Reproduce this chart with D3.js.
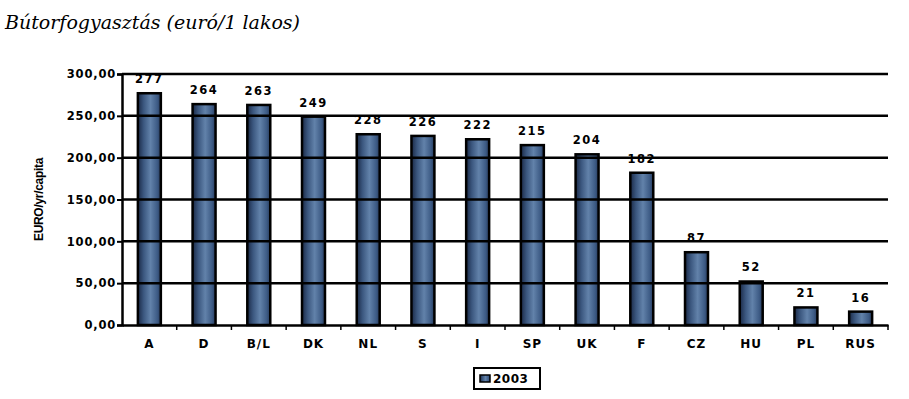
<html>
<script src="https://cdnjs.cloudflare.com/ajax/libs/d3/7.8.5/d3.min.js"></script>
<body style="margin:0;background:#fff">
<svg width="909" height="399"></svg>
<script>
// data
const countries = ["A", "D", "B/L", "DK", "NL", "S", "I", "SP", "UK", "F", "CZ", "HU", "PL", "RUS"];
const values2003 = [277, 264, 263, 249, 228, 226, 222, 215, 204, 182, 87, 52, 21, 16];
const yTicks = [0, 50, 100, 150, 200, 250, 300];
const seriesName = "2003";

var svg = d3.select("svg");
var plotLeft = 122, plotRight = 888, plotTop = 74, plotBottom = 325;
var boldFont = "DejaVu Sans, Liberation Sans, Arial, sans-serif";

var x = d3.scaleBand().domain(countries).range([plotLeft, plotRight]).paddingInner(0.58).paddingOuter(0.29);
var xb = d3.scaleBand().domain(countries).range([plotLeft, plotRight]);
var y = d3.scaleLinear().domain([0, 300]).range([plotBottom, plotTop]);

// gradient for the bars
var grad = svg.append("defs").append("linearGradient").attr("id", "bar").attr("x1", 0).attr("x2", 1);
grad.append("stop").attr("offset", "0%").attr("stop-color", "#1a2946");
grad.append("stop").attr("offset", "25%").attr("stop-color", "#3b577f");
grad.append("stop").attr("offset", "55%").attr("stop-color", "#6282aa");
grad.append("stop").attr("offset", "85%").attr("stop-color", "#3d5b85");
grad.append("stop").attr("offset", "100%").attr("stop-color", "#26395a");

// title
svg.append("text")
  .attr("x", 5).attr("y", 29)
  .style("font-family", "DejaVu Serif, serif")
  .style("font-style", "italic")
  .style("font-size", "19px")
  .text("Bútorfogyasztás (euró/1 lakos)");

// bars
var g = svg.append("g");
g.selectAll("rect.bar")
  .data(countries)
  .enter().append("rect")
  .attr("class", "bar")
  .attr("x", d => x(d))
  .attr("y", (d, i) => y(values2003[i]))
  .attr("width", x.bandwidth())
  .attr("height", (d, i) => plotBottom - y(values2003[i]))
  .style("fill", "url(#bar)")
  .style("stroke", "#000")
  .style("stroke-width", 2.5);

// gridlines over the bars
svg.append("g").selectAll("line")
  .data(yTicks.filter(t => t > 0))
  .enter().append("line")
  .attr("x1", plotLeft).attr("x2", plotRight)
  .attr("y1", d => y(d)).attr("y2", d => y(d))
  .style("stroke", "#000").style("stroke-width", 2.5);

// value labels
svg.append("g").selectAll("text")
  .data(countries)
  .enter().append("text")
  .attr("x", d => x(d) + x.bandwidth() / 2)
  .attr("y", (d, i) => y(values2003[i]) - 10)
  .attr("text-anchor", "middle")
  .style("font-family", boldFont)
  .style("font-weight", "bold")
  .style("font-size", "11.5px")
  .style("letter-spacing", "1.5px")
  .text((d, i) => values2003[i]);

// y axis
var yAxis = svg.append("g")
  .attr("transform", "translate(" + plotLeft + ",0)")
  .call(d3.axisLeft(y).tickValues(yTicks).tickSize(5).tickFormat(d => d3.format(".2f")(d).replace(".", ",")));
yAxis.select(".domain").style("stroke-width", 2.5);
yAxis.selectAll("line").style("stroke-width", 2);
yAxis.selectAll("text")
  .style("font-family", boldFont)
  .style("font-weight", "bold")
  .style("font-size", "11.5px")
  .style("letter-spacing", "0.8px")
  .attr("x", -6);

// x axis
var xAxis = svg.append("g")
  .attr("transform", "translate(0," + plotBottom + ")")
  .call(d3.axisBottom(xb).tickSize(0).tickSizeOuter(0));
xAxis.select(".domain").style("stroke-width", 2.5);
xAxis.selectAll("text")
  .attr("y", 14)
  .style("font-family", boldFont)
  .style("font-weight", "bold")
  .style("font-size", "12px")
  .style("letter-spacing", "1px");
// category separator ticks
svg.append("g").selectAll("line")
  .data(countries)
  .enter().append("line")
  .attr("x1", d => xb(d) + xb.bandwidth())
  .attr("x2", d => xb(d) + xb.bandwidth())
  .attr("y1", plotBottom).attr("y2", plotBottom + 5)
  .style("stroke", "#000").style("stroke-width", 1.5);

// y label
svg.append("text")
  .attr("transform", "translate(43," + ((plotTop + plotBottom) / 2) + ") rotate(-90)")
  .attr("text-anchor", "middle")
  .style("font-family", "Liberation Sans Narrow, Liberation Sans, Arial, sans-serif")
  .style("font-weight", "bold")
  .style("font-size", "12px")
  .style("letter-spacing", "-0.3px")
  .text("EURO/yr/capita");

// legend
var lg = svg.append("g").attr("transform", "translate(474,368)");
lg.append("rect").attr("width", 66).attr("height", 21)
  .style("fill", "#fff").style("stroke", "#000").style("stroke-width", 2);
lg.append("rect").attr("x", 6).attr("y", 7).attr("width", 10).attr("height", 7)
  .style("fill", "url(#bar)").style("stroke", "#000").style("stroke-width", 1.5);
lg.append("text").attr("x", 19).attr("y", 15)
  .style("font-family", boldFont)
  .style("font-weight", "bold")
  .style("font-size", "12px")
  .style("letter-spacing", "0.5px")
  .text(seriesName);
</script>
</body>
</html>
